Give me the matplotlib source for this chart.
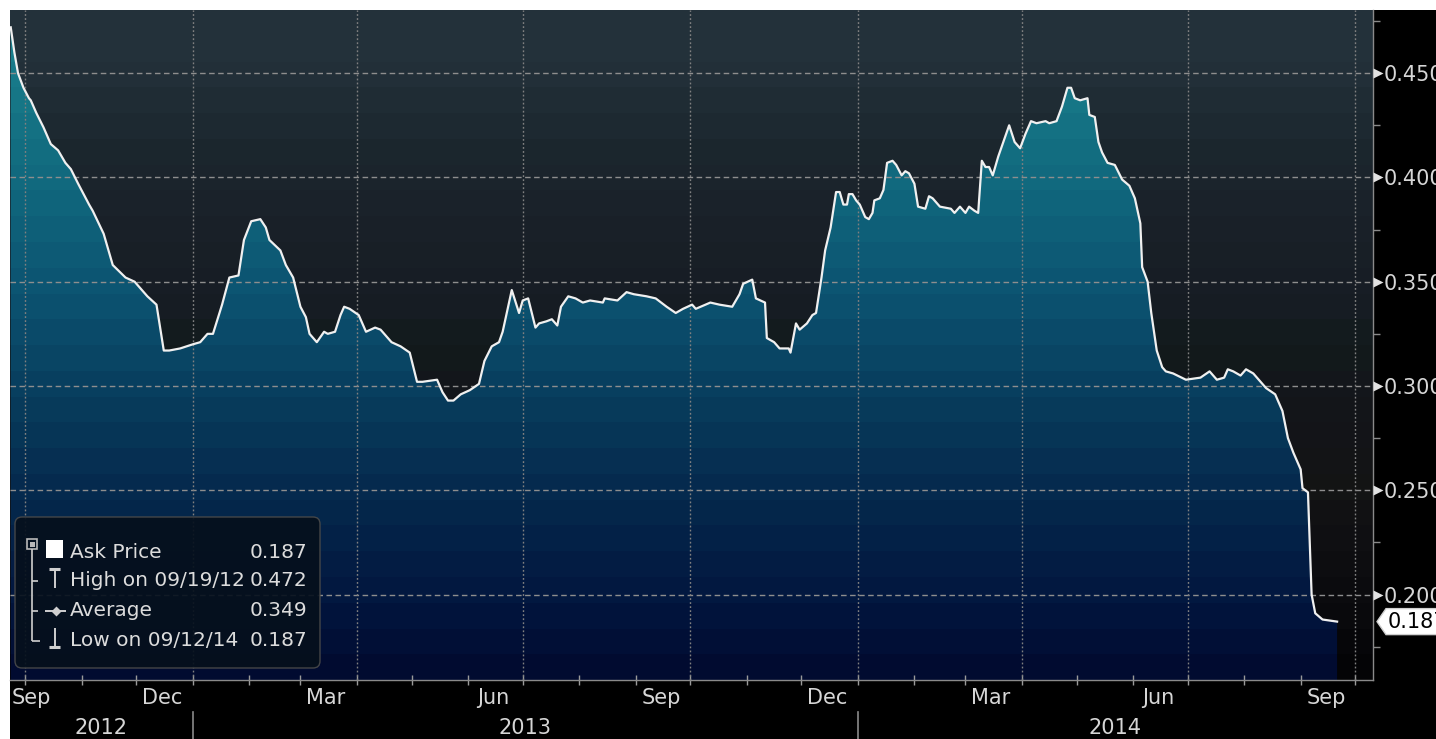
import datetime as dt
import numpy as np
import matplotlib
matplotlib.use("Agg")
import matplotlib.pyplot as plt
import matplotlib.dates as mdates
import matplotlib.transforms as mtransforms
from matplotlib.colors import LinearSegmentedColormap
from matplotlib.patches import Rectangle, FancyBboxPatch, Polygon
from matplotlib.lines import Line2D

# ---------------- data ----------------
dates = [
    "2012-09-23", "2012-09-25", "2012-09-27", "2012-09-30", "2012-10-03", "2012-10-04",
    "2012-10-07", "2012-10-11", "2012-10-15", "2012-10-19", "2012-10-23", "2012-10-26",
    "2012-10-30", "2012-11-05", "2012-11-07", "2012-11-13", "2012-11-18", "2012-11-25",
    "2012-11-30", "2012-12-07", "2012-12-12", "2012-12-16", "2012-12-19", "2012-12-25",
    "2013-01-01", "2013-01-05", "2013-01-09", "2013-01-12", "2013-01-17", "2013-01-21",
    "2013-01-26", "2013-01-29", "2013-02-02", "2013-02-07", "2013-02-10", "2013-02-12",
    "2013-02-18", "2013-02-21", "2013-02-25", "2013-03-01", "2013-03-04", "2013-03-06",
    "2013-03-10", "2013-03-14", "2013-03-16", "2013-03-20", "2013-03-23", "2013-03-25",
    "2013-03-28", "2013-04-02", "2013-04-06", "2013-04-11", "2013-04-14", "2013-04-17",
    "2013-04-20", "2013-04-25", "2013-04-30", "2013-05-04", "2013-05-07", "2013-05-15",
    "2013-05-18", "2013-05-21", "2013-05-24", "2013-05-28", "2013-06-02", "2013-06-07",
    "2013-06-10", "2013-06-14", "2013-06-18", "2013-06-20", "2013-06-25", "2013-06-29",
    "2013-07-01", "2013-07-04", "2013-07-08", "2013-07-10", "2013-07-14", "2013-07-17",
    "2013-07-20", "2013-07-22", "2013-07-26", "2013-07-30", "2013-08-03", "2013-08-07",
    "2013-08-14", "2013-08-15", "2013-08-22", "2013-08-27", "2013-08-31", "2013-09-07",
    "2013-09-12", "2013-09-18", "2013-09-23", "2013-09-27", "2013-10-02", "2013-10-04",
    "2013-10-12", "2013-10-17", "2013-10-24", "2013-10-28", "2013-10-30", "2013-11-04",
    "2013-11-06", "2013-11-11", "2013-11-12", "2013-11-16", "2013-11-19", "2013-11-24",
    "2013-11-25", "2013-11-28", "2013-11-30", "2013-12-04", "2013-12-07", "2013-12-09",
    "2013-12-12", "2013-12-14", "2013-12-17", "2013-12-20", "2013-12-22", "2013-12-24",
    "2013-12-26", "2013-12-27", "2013-12-29", "2013-12-31", "2014-01-02", "2014-01-05",
    "2014-01-07", "2014-01-09", "2014-01-10", "2014-01-13", "2014-01-15", "2014-01-17",
    "2014-01-20", "2014-01-22", "2014-01-25", "2014-01-27", "2014-01-29", "2014-02-01",
    "2014-02-03", "2014-02-07", "2014-02-09", "2014-02-11", "2014-02-15", "2014-02-21",
    "2014-02-23", "2014-02-26", "2014-03-01", "2014-03-03", "2014-03-06", "2014-03-08",
    "2014-03-10", "2014-03-12", "2014-03-14", "2014-03-16", "2014-03-19", "2014-03-25",
    "2014-03-28", "2014-03-31", "2014-04-03", "2014-04-06", "2014-04-09", "2014-04-14",
    "2014-04-16", "2014-04-20", "2014-04-23", "2014-04-26", "2014-04-28", "2014-04-30",
    "2014-05-03", "2014-05-07", "2014-05-08", "2014-05-11", "2014-05-13", "2014-05-15",
    "2014-05-18", "2014-05-22", "2014-05-26", "2014-05-30", "2014-06-02", "2014-06-05",
    "2014-06-06", "2014-06-09", "2014-06-11", "2014-06-14", "2014-06-17", "2014-06-19",
    "2014-06-23", "2014-06-30", "2014-07-08", "2014-07-13", "2014-07-17", "2014-07-21",
    "2014-07-23", "2014-07-26", "2014-07-30", "2014-08-02", "2014-08-06", "2014-08-13",
    "2014-08-18", "2014-08-22", "2014-08-25", "2014-08-28", "2014-09-01", "2014-09-02",
    "2014-09-05", "2014-09-07", "2014-09-09", "2014-09-13", "2014-09-21",
]
prices = [
    0.472, 0.460, 0.450, 0.443, 0.438, 0.437,
    0.431, 0.424, 0.416, 0.413, 0.407, 0.404,
    0.397, 0.387, 0.384, 0.373, 0.358, 0.352,
    0.350, 0.343, 0.339, 0.317, 0.317, 0.318,
    0.320, 0.321, 0.325, 0.325, 0.339, 0.352,
    0.353, 0.370, 0.379, 0.380, 0.376, 0.370,
    0.365, 0.358, 0.352, 0.338, 0.333, 0.325,
    0.321, 0.326, 0.325, 0.326, 0.334, 0.338,
    0.337, 0.334, 0.326, 0.328, 0.327, 0.324,
    0.321, 0.319, 0.316, 0.302, 0.302, 0.303,
    0.297, 0.293, 0.293, 0.296, 0.298, 0.301,
    0.312, 0.319, 0.321, 0.326, 0.346, 0.335,
    0.341, 0.342, 0.328, 0.330, 0.331, 0.332,
    0.329, 0.338, 0.343, 0.342, 0.340, 0.341,
    0.340, 0.342, 0.341, 0.345, 0.344, 0.343,
    0.342, 0.338, 0.335, 0.337, 0.339, 0.337,
    0.340, 0.339, 0.338, 0.344, 0.349, 0.351,
    0.342, 0.340, 0.323, 0.321, 0.318, 0.318,
    0.316, 0.330, 0.327, 0.330, 0.334, 0.335,
    0.352, 0.365, 0.376, 0.393, 0.393, 0.387,
    0.387, 0.392, 0.392, 0.389, 0.387, 0.381,
    0.380, 0.383, 0.389, 0.390, 0.394, 0.407,
    0.408, 0.406, 0.401, 0.403, 0.402, 0.397,
    0.386, 0.385, 0.391, 0.390, 0.386, 0.385,
    0.383, 0.386, 0.383, 0.386, 0.384, 0.383,
    0.408, 0.405, 0.405, 0.401, 0.410, 0.425,
    0.417, 0.414, 0.421, 0.427, 0.426, 0.427,
    0.426, 0.427, 0.434, 0.443, 0.443, 0.438,
    0.437, 0.438, 0.430, 0.429, 0.417, 0.412,
    0.407, 0.406, 0.399, 0.396, 0.390, 0.378,
    0.357, 0.350, 0.335, 0.317, 0.309, 0.307,
    0.306, 0.303, 0.304, 0.307, 0.303, 0.304,
    0.308, 0.307, 0.305, 0.308, 0.306, 0.299,
    0.296, 0.288, 0.275, 0.268, 0.260, 0.251,
    0.249, 0.200, 0.191, 0.188, 0.187,
]

y_ticks = [0.200, 0.250, 0.300, 0.350, 0.400, 0.450]
y_minor = [0.175, 0.225, 0.275, 0.325, 0.375, 0.425, 0.475]
month_label_dates = ["2012-12-15", "2013-03-15", "2013-06-15", "2013-09-15",
                     "2013-12-15", "2014-03-15", "2014-06-15", "2014-09-15"]
month_labels = ["Dec", "Mar", "Jun", "Sep", "Dec", "Mar", "Jun", "Sep"]
first_month_label = "Sep"
years = ["2012", "2013", "2014"]

legend_labels = ["Ask Price", "High on 09/19/12", "Average", "Low on 09/12/14"]
legend_values = ["0.187", "0.472", "0.349", "0.187"]
last_label = "0.187"

# ---------------- styles ----------------
W, H = 1436, 739
FS = 15
TXT = "#d6d6d6"

def d2n(s):
    return mdates.date2num(dt.datetime.strptime(s, "%Y-%m-%d"))

xs = np.array([d2n(s) for s in dates])
ys = np.array(prices)

jan13 = d2n("2013-01-01")
jan14 = d2n("2014-01-01")
x0 = jan13 - 100.4
x1 = jan14 + 282.7
y0, y1 = 0.159, 0.4803

fig = plt.figure(figsize=(W / 100, H / 100), dpi=100, facecolor="white")
fig.add_artist(Rectangle((10 / W, 0), 1 - 10 / W, 1 - 10 / H, transform=fig.transFigure,
                         facecolor="black", edgecolor="none", zorder=-10))
ax = fig.add_axes([10 / W, 1 - 680 / H, (1373 - 10) / W, (680 - 10) / H])
ax.set_facecolor("black")

bg_cmap = LinearSegmentedColormap.from_list("bg", [
    (0.000, "#030305"), (0.116, "#0b0b0e"), (0.222, "#101013"), (0.281, "#141414"),
    (0.356, "#131418"), (0.438, "#14161b"), (0.491, "#121a1c"), (0.566, "#171d24"),
    (0.693, "#1a2129"), (0.790, "#1c272e"), (0.925, "#23313a"), (1.000, "#24323b")])
fill_cmap = LinearSegmentedColormap.from_list("fill", [
    (0.000, "#010a2e"), (0.116, "#02163f"), (0.266, "#05284c"), (0.416, "#083c5c"),
    (0.566, "#0c5270"), (0.716, "#10657c"), (0.865, "#167686"), (1.000, "#1b8290")])

nb = 26
edges = np.linspace(0, 1, nb + 1)
centers = (edges[:-1] + edges[1:]) / 2
bg_img = bg_cmap(centers)[:, None, :]
fill_img = fill_cmap(centers)[:, None, :]

ax.imshow(bg_img, extent=[x0, x1, y0, y1], origin="lower", aspect="auto",
          interpolation="nearest", zorder=0)
poly = ax.fill_between(xs, ys, y0, facecolor="none", edgecolor="none", lw=0, zorder=1)
im = ax.imshow(fill_img, extent=[x0, x1, y0, y1], origin="lower", aspect="auto",
               interpolation="nearest", zorder=1)
im.set_clip_path(poly.get_paths()[0], transform=ax.transData)

# grid
for v in y_ticks:
    ax.axhline(v, color="#8e8e8e", lw=1.0, ls=(0, (4.0, 2.5)), zorder=2)
quarters = []
for yr in (2012, 2013, 2014):
    for m in (1, 4, 7, 10):
        q = mdates.date2num(dt.datetime(yr, m, 1))
        if x0 < q < x1:
            quarters.append(q)
for q in quarters:
    ax.axvline(q, color="#808080", lw=1.0, ls=(0, (1.3, 1.6)), zorder=2)

ax.plot(xs, ys, color="#f0f0f0", lw=1.6, zorder=4, solid_joinstyle="round")

ax.set_xlim(x0, x1)
ax.set_ylim(y0, y1)

# spines
for s in ("left", "top"):
    ax.spines[s].set_visible(False)
for s in ("right", "bottom"):
    ax.spines[s].set_color("#8a8a8a")
    ax.spines[s].set_linewidth(1.0)
    ax.spines[s].set_zorder(6)

# y axis (right)
ax.yaxis.tick_right()
ax.set_yticks(y_ticks)
ax.set_yticklabels([f"{v:.3f}" for v in y_ticks])
ax.set_yticks(y_minor, minor=True)
ax.tick_params(axis="y", which="major", length=0, pad=8, labelsize=FS, labelcolor=TXT)
ax.tick_params(axis="y", which="minor", length=5, width=1, color="#8a8a8a")
trans_ay = mtransforms.blended_transform_factory(ax.transAxes, ax.transData)
ax.plot([1.0035] * len(y_ticks), y_ticks, ls="none", marker=">", ms=6.5,
        color="#e2e2e2", mec="none", transform=trans_ay, clip_on=False, zorder=7)

# x axis
month_starts = []
for yr in (2012, 2013, 2014):
    for m in range(1, 13):
        ms_ = mdates.date2num(dt.datetime(yr, m, 1))
        if x0 < ms_ < x1:
            month_starts.append(ms_)
ax.set_xticks(month_starts)
ax.set_xticklabels([])
ax.set_xticks([d2n(s) for s in month_label_dates], minor=True)
ax.set_xticklabels(month_labels, minor=True)
ax.tick_params(axis="x", which="major", length=7, width=1, direction="inout", color="#9a9a9a")
ax.tick_params(axis="x", which="minor", length=0, pad=6, labelsize=FS, labelcolor=TXT)
off = mtransforms.offset_copy(ax.transAxes, fig=fig, y=-6, units="points")
ax.text(0.0015, 0, first_month_label, transform=off, ha="left", va="top",
        fontsize=FS, color=TXT)

trans_xa = mtransforms.blended_transform_factory(ax.transData, ax.transAxes)
year_centers = [(x0 + jan13) / 2, (jan13 + jan14) / 2, (jan14 + x1) / 2]
for yc, yt in zip(year_centers, years):
    ax.text(yc, -0.072, yt, transform=trans_xa, ha="center", va="center",
            fontsize=FS, color=TXT, clip_on=False)
for sep in (jan13, jan14):
    ax.add_line(Line2D([sep, sep], [-0.048, -0.095], transform=trans_xa, color="#8a8a8a",
                       lw=1.2, clip_on=False))

# last value tag
ident = mtransforms.IdentityTransform()
yd = ax.transData.transform((x0, ys[-1]))[1]
tag = Polygon([(1377, yd), (1386, yd + 13), (1442, yd + 13), (1442, yd - 13), (1386, yd - 13)],
              closed=True, transform=ident, facecolor="white", edgecolor="#cfcfcf", lw=1, zorder=20)
fig.add_artist(tag)
fig.text(1388, yd, last_label, transform=ident, ha="left", va="center", fontsize=FS,
         color="black", zorder=21)

# legend box
def py(y):
    return H - y

box = FancyBboxPatch((15, py(668)), 305, 151, boxstyle="round,pad=0,rounding_size=7",
                     transform=ident, facecolor="#06101c", edgecolor="#4a4a4a", lw=1.0,
                     alpha=0.92, zorder=20)
fig.add_artist(box)
row_y = [552, 581, 611, 640]
for lab, val, ry in zip(legend_labels, legend_values, row_y):
    fig.text(70, py(ry), lab, transform=ident, ha="left", va="center", fontsize=14.5,
             color="#dcdcdc", zorder=22)
    fig.text(307, py(ry), val, transform=ident, ha="right", va="center", fontsize=14.5,
             color="#dcdcdc", zorder=22)

ic = "#cfcfcf"
def seg(xa, ya, xb, yb, lw=1.2, c=ic):
    fig.add_artist(Line2D([xa, xb], [py(ya), py(yb)], transform=ident, color=c, lw=lw,
                          zorder=22, solid_capstyle="butt"))

# tree / expand icon
fig.add_artist(Rectangle((27, py(549)), 10, 10, transform=ident, facecolor="none",
                         edgecolor="#b8b8b8", lw=1.2, zorder=22))
fig.add_artist(Rectangle((29.5, py(546.5)), 5, 5, transform=ident, facecolor="#b8b8b8",
                         edgecolor="none", zorder=22))
fig.add_artist(Rectangle((46, py(558)), 17, 18, transform=ident, facecolor="white",
                         edgecolor="none", zorder=22))
seg(32, 549, 32, 641)
seg(32, 581, 38, 581)
seg(32, 611, 38, 611)
seg(32, 641, 40, 641)
# high icon
seg(49, 569, 60, 569, lw=2.2)
seg(54.5, 569, 54.5, 588, lw=1.4)
# average icon
seg(45, 611, 66, 611, lw=1.4)
fig.add_artist(Line2D([55.5], [py(611)], transform=ident, marker="D", ms=5, color=ic,
                      mec="none", zorder=23))
# low icon
seg(54.5, 628, 54.5, 647, lw=1.4)
seg(49, 647, 60, 647, lw=2.2)

fig.savefig("out.png", dpi=100, facecolor=fig.get_facecolor())
